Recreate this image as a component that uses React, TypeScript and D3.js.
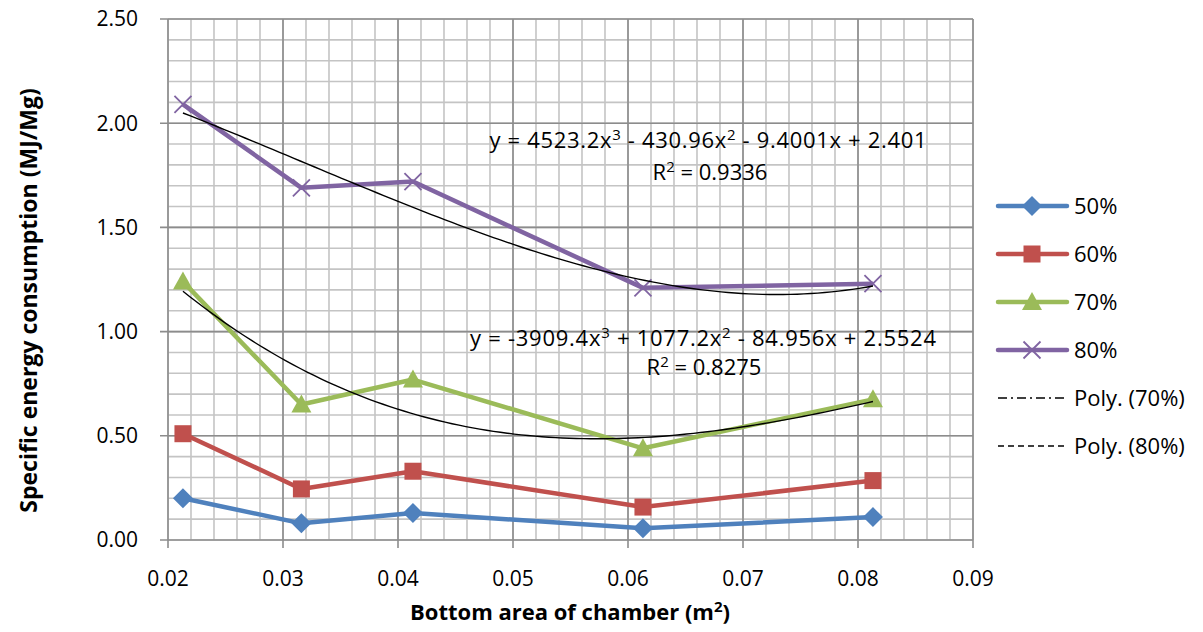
import React from 'react';
import * as d3 from 'd3';

// chamber bottom area (m²)
const areas = [0.0213, 0.0316, 0.0413, 0.0613, 0.0813];

// specific energy consumption (MJ/Mg) per fill level
const s50 = [0.2, 0.08, 0.13, 0.056, 0.11];
const s60 = [0.51, 0.245, 0.33, 0.158, 0.285];
const s70 = [1.24, 0.65, 0.77, 0.44, 0.675];
const s80 = [2.09, 1.69, 1.72, 1.21, 1.23];

// trendline coefficients as printed on the chart (a x³ + b x² + c x + d)
const poly70 = [-3909.4, 1077.2, -84.956, 2.5524];
const poly80 = [4523.2, -430.96, -9.4001, 2.401];

const xTicks = [0.02, 0.03, 0.04, 0.05, 0.06, 0.07, 0.08, 0.09];
const yTicks = [0, 0.5, 1, 1.5, 2, 2.5];

const series = [
  { name: '50%', values: s50, color: '#4F81BD', marker: 'diamond' },
  { name: '60%', values: s60, color: '#C0504D', marker: 'square' },
  { name: '70%', values: s70, color: '#9BBB59', marker: 'triangle' },
  { name: '80%', values: s80, color: '#8064A2', marker: 'cross' },
];

const font = '"Open Sans", sans-serif';

const Marker = ({ type, x, y, color }: { type: string; x: number; y: number; color: string }) => {
  if (type === 'diamond') {
    const r = 10;
    return <path d={`M${x},${y - r}L${x + r},${y}L${x},${y + r}L${x - r},${y}Z`} fill={color} />;
  }
  if (type === 'square') {
    const r = 8.5;
    return <rect x={x - r} y={y - r} width={2 * r} height={2 * r} fill={color} />;
  }
  if (type === 'triangle') {
    const r = 10;
    return <path d={`M${x},${y - r}L${x + r},${y + r * 0.8}L${x - r},${y + r * 0.8}Z`} fill={color} />;
  }
  const r = 8.5;
  return (
    <path d={`M${x - r},${y - r}L${x + r},${y + r}M${x - r},${y + r}L${x + r},${y - r}`} stroke={color} strokeWidth={1.8} fill="none" />
  );
};

const App = () => {
  const width = 1203;
  const height = 632;
  const left = 168, right = 973, top = 19, bottom = 540;

  const x = d3.scaleLinear().domain([0.02, 0.09]).range([left, right]);
  const y = d3.scaleLinear().domain([0, 2.5]).range([bottom, top]);

  const minorX = d3.range(0, 36).map(i => 0.02 + i * 0.002);
  const minorY = d3.range(0, 26).map(i => i * 0.1);

  const line = d3.line<number>()
    .x((_, i) => x(areas[i]))
    .y(d => y(d));

  const polyVal = (c: number[], v: number) => c[0] * v ** 3 + c[1] * v ** 2 + c[2] * v + c[3];
  const trendXs = d3.range(0, 101).map(i => areas[0] + (areas[4] - areas[0]) * i / 100);
  const trend = d3.line<number>().x(v => x(v));

  const legendRows = [206, 254, 302, 350, 398, 446];
  const sup = 15;

  return (
    <svg width={width} height={height} style={{ position: 'absolute', left: 0, top: 0, background: '#fff' }} fontFamily={font}>
      {/* minor grid */}
      {minorX.map((v, i) => (
        <line key={'mx' + i} x1={x(v)} x2={x(v)} y1={top} y2={bottom} stroke="#C4C4C4" strokeWidth={1.6} />
      ))}
      {minorY.map((v, i) => (
        <line key={'my' + i} x1={left} x2={right} y1={y(v)} y2={y(v)} stroke="#C4C4C4" strokeWidth={1.6} />
      ))}
      {/* major grid */}
      {xTicks.map(v => (
        <line key={'gx' + v} x1={x(v)} x2={x(v)} y1={top} y2={bottom + 8} stroke="#8C8C8C" strokeWidth={1.6} />
      ))}
      {yTicks.map(v => (
        <line key={'gy' + v} x1={left - 8} x2={right} y1={y(v)} y2={y(v)} stroke="#8C8C8C" strokeWidth={1.6} />
      ))}

      {/* tick labels */}
      {xTicks.map(v => (
        <text key={'tx' + v} x={x(v)} y={586} textAnchor="middle" fontSize={21} fill="#000">
          {d3.format('.2f')(v)}
        </text>
      ))}
      {yTicks.map(v => (
        <text key={'ty' + v} x={138} y={y(v)} dy="0.35em" textAnchor="end" fontSize={21} fill="#000">
          {d3.format('.2f')(v)}
        </text>
      ))}

      {/* series */}
      {series.map(s => (
        <g key={s.name}>
          <path d={line(s.values) || ''} fill="none" stroke={s.color} strokeWidth={4.5} strokeLinejoin="round" />
          {s.values.map((v, i) => (
            <Marker key={i} type={s.marker} x={x(areas[i])} y={y(v)} color={s.color} />
          ))}
        </g>
      ))}

      {/* trendlines */}
      <path d={trend.y(v => y(polyVal(poly70, v)))(trendXs) || ''} fill="none" stroke="#000" strokeWidth={1.4} />
      <path d={trend.y(v => y(polyVal(poly80, v)))(trendXs) || ''} fill="none" stroke="#000" strokeWidth={1.4} />

      {/* equations */}
      <g fontSize={22} textAnchor="middle" fill="#000">
        <text x={708} y={148} textLength={437} lengthAdjust="spacing">
          y = 4523.2x<tspan dy={-8} fontSize={sup}>3</tspan><tspan dy={8}> - 430.96x</tspan><tspan dy={-8} fontSize={sup}>2</tspan><tspan dy={8}> - 9.4001x + 2.401</tspan>
        </text>
        <text x={710} y={180}>
          R<tspan dy={-8} fontSize={sup}>2</tspan><tspan dy={8}> = 0.9336</tspan>
        </text>
        <text x={703} y={346} textLength={466} lengthAdjust="spacing">
          y = -3909.4x<tspan dy={-8} fontSize={sup}>3</tspan><tspan dy={8}> + 1077.2x</tspan><tspan dy={-8} fontSize={sup}>2</tspan><tspan dy={8}> - 84.956x + 2.5524</tspan>
        </text>
        <text x={704} y={375}>
          R<tspan dy={-8} fontSize={sup}>2</tspan><tspan dy={8}> = 0.8275</tspan>
        </text>
      </g>

      {/* axis titles */}
      <text x={570} y={620} textAnchor="middle" fontSize={22} fontWeight="bold">
        Bottom area of chamber (m<tspan dy={-8} fontSize={15}>2</tspan><tspan dy={8}>)</tspan>
      </text>
      <text transform={`translate(37,${(top + bottom) / 2 + 21}) rotate(-90)`} textAnchor="middle" fontSize={23} fontWeight="bold">
        Specific energy consumption (MJ/Mg)
      </text>

      {/* legend */}
      {series.map((s, i) => (
        <g key={'lg' + s.name}>
          <line x1={998} x2={1067} y1={legendRows[i]} y2={legendRows[i]} stroke={s.color} strokeWidth={4.5} strokeLinecap="round" />
          <Marker type={s.marker} x={1032} y={legendRows[i]} color={s.color} />
          <text x={1074} y={legendRows[i]} dy="0.35em" fontSize={22}>{s.name}</text>
        </g>
      ))}
      <line x1={998} x2={1067} y1={legendRows[4]} y2={legendRows[4]} stroke="#000" strokeWidth={1.4} strokeDasharray="9,4,2,4" />
      <text x={1074} y={legendRows[4]} dy="0.35em" fontSize={22}>Poly. (70%)</text>
      <line x1={998} x2={1067} y1={legendRows[5]} y2={legendRows[5]} stroke="#000" strokeWidth={1.4} strokeDasharray="6,4" />
      <text x={1074} y={legendRows[5]} dy="0.35em" fontSize={22}>Poly. (80%)</text>
    </svg>
  );
};

export default App;
